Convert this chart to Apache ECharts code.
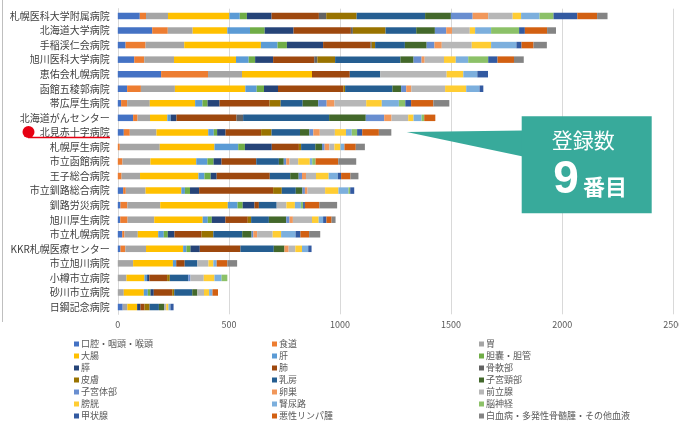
<!DOCTYPE html>
<html><head><meta charset="utf-8">
<script src="https://cdn.jsdelivr.net/npm/echarts@6/dist/echarts.min.js"></script>
<style>html,body{margin:0;padding:0;background:#fff}#c{width:679px;height:423px}</style>
</head><body><div id="c"></div>
<script>
const hospitals = ['札幌医科大学附属病院','北海道大学病院','手稲渓仁会病院','旭川医科大学病院','恵佑会札幌病院','函館五稜郭病院','帯広厚生病院','北海道がんセンター','北見赤十字病院','札幌厚生病院','市立函館病院','王子総合病院','市立釧路総合病院','釧路労災病院','旭川厚生病院','市立札幌病院','KKR札幌医療センター','市立旭川病院','小樽市立病院','砂川市立病院','日鋼記念病院'];

const kouku   = [99,155,35,74,195,42,15,69,27,0,0,0,24,12,11,20,12,0,0,0,22];
const shokudo = [28,70,90,45,211,62,27,20,27,9,21,17,12,31,33,10,22,0,0,0,0];
const i_      = [99,112,174,134,153,153,102,56,120,180,126,83,89,148,120,60,93,69,39,27,21];
const daicho  = [276,156,345,279,315,317,204,78,233,246,206,263,161,304,218,92,167,179,81,90,44];
const kan     = [47,102,75,57,0,51,33,15,25,107,50,27,16,44,23,25,15,15,12,18,0];
const tanno   = [32,66,42,29,0,33,23,0,15,30,28,28,23,23,18,18,18,0,0,12,0];
const sui     = [111,130,163,81,0,63,54,26,38,121,36,27,41,53,61,30,42,0,10,15,15];
const hai     = [213,258,214,185,170,294,225,270,160,122,156,239,333,20,101,122,183,38,80,83,18];
const kotsu   = [33,9,5,14,0,0,0,30,0,0,0,0,0,0,0,0,0,0,0,0,0];
const hifu    = [137,147,15,80,0,8,50,0,47,10,0,0,39,0,15,53,0,0,12,9,23];
const nyubo   = [308,138,134,294,137,213,99,387,128,64,102,92,63,80,80,130,150,57,83,81,42];
const shikyukei = [116,84,98,59,0,39,70,165,42,30,22,38,30,0,78,42,48,0,0,23,23];
const shikyutai = [98,51,35,36,0,23,38,83,18,12,11,15,11,0,15,8,0,0,10,0,0];
const ransou  = [70,26,33,14,0,23,35,33,29,21,15,18,12,0,15,17,19,0,0,0,0];
const zenritsu= [110,80,135,87,299,152,143,75,68,23,39,45,79,44,86,70,30,50,60,30,10];
const boukou  = [38,24,87,53,75,95,70,24,50,27,52,57,60,38,30,38,30,22,48,23,10];
const jinnyoro= [83,72,114,56,63,60,77,36,26,18,11,41,45,27,20,65,28,15,32,15,9];
const noushinkei = [63,126,0,90,0,0,29,12,24,0,15,0,8,10,0,0,0,0,26,0,0];
const koujousen  = [107,26,23,42,48,17,26,0,23,0,0,15,18,8,15,22,15,0,0,0,14];
const lymphoma   = [89,100,54,74,0,0,100,50,75,51,102,42,0,65,23,39,0,48,0,25,0];
const hakketsu   = [47,40,60,44,0,0,72,0,56,41,81,36,0,80,18,50,0,44,0,0,0];

const seriesNames = ['口腔・咽頭・喉頭','食道','胃','大腸','肝','胆嚢・胆管','膵','肺','骨軟部','皮膚','乳房','子宮頸部','子宮体部','卵巣','前立腺','膀胱','腎尿路','脳神経','甲状腺','悪性リンパ腫','白血病・多発性骨髄腫・その他血液'];
const seriesData = [kouku,shokudo,i_,daicho,kan,tanno,sui,hai,kotsu,hifu,nyubo,shikyukei,shikyutai,ransou,zenritsu,boukou,jinnyoro,noushinkei,koujousen,lymphoma,hakketsu];
const xTicks = [0,500,1000,1500,2000,2500];

const colors = ['#4472C4','#ED7D31','#A5A5A5','#FFC000','#5B9BD5','#70AD47','#264478','#9E480E','#636363','#997300','#255E91','#43682B','#698ED0','#F1975A','#B7B7B7','#FFCD33','#7CAFDD','#8CC168','#335AA1','#D26012','#848484'];

const FONT = '"Noto Sans CJK JP","Noto Sans",sans-serif';
const chart = echarts.init(document.getElementById('c'), null, {renderer:'canvas'});

function legendCol(k, left){
  return {
    orient:'vertical', left:left, top:339.5, padding:0,
    itemWidth:5, itemHeight:5, itemGap:3, icon:'rect',
    selectedMode:false,
    data: seriesNames.filter((_,i)=>i%3===k),
    textStyle:{fontSize:9, lineHeight:9, color:'#595959', fontFamily:FONT, padding:[0,0,0,-3]}
  };
}

const option = {
  animation:false,
  color: colors,
  grid:{left:117.8, right:5.7, top:8.7, height:305.6, containLabel:false, outerBoundsMode:'none'},
  xAxis:{type:'value', min:0, max:2500, interval:500,
    axisLine:{show:false}, axisTick:{show:false},
    splitLine:{lineStyle:{color:'#d9d9d9', width:1}},
    axisLabel:{fontSize:9, color:'#595959', fontFamily:FONT, margin:6,
      formatter:v=> xTicks.includes(v)? String(v):''}
  },
  yAxis:{type:'category', data:hospitals, inverse:true,
    axisLine:{show:true, lineStyle:{color:'#d9d9d9'}}, axisTick:{show:false},
    axisLabel:{fontSize:10, color:'#404040', fontFamily:FONT, margin:8}
  },
  legend:[legendCol(0,74), legendCol(1,272), legendCol(2,479)],
  series: seriesNames.map((n,i)=>({
    name:n, type:'bar', stack:'all', data:seriesData[i], barWidth:6.5,
    itemStyle:{color:colors[i]}
  })),
  graphic:[
    {type:'line', shape:{x1:2.5,y1:0,x2:2.5,y2:322}, style:{stroke:'#bfbfbf', lineWidth:1}, silent:true},
    {type:'line', shape:{x1:28,y1:137.5,x2:110,y2:137.5}, style:{stroke:'#e60012', lineWidth:1.5}, z:100},
    {type:'circle', shape:{cx:28.5,cy:132,r:6}, style:{fill:'#e60012'}, z:100},
    {type:'polygon', shape:{points:[[406.7,132],[523,130.5],[523,156.5]]}, style:{fill:'#38aa9b'}, z:100},
    {type:'rect', shape:{x:521.7,y:116.3,width:130,height:97}, style:{fill:'#38aa9b'}, z:100},
    {type:'text', x:583.3, y:140.5, style:{text:'登録数', fill:'#fff', font:'21px '+FONT, textAlign:'center', textVerticalAlign:'middle'}, z:101},
    {type:'text', x:566, y:180, style:{text:'9', fill:'#fff', font:'bold 46px "Liberation Sans",Arial,sans-serif', textAlign:'center', textVerticalAlign:'middle'}, z:101},
    {type:'text', x:583, y:187, style:{text:'番目', fill:'#fff', font:'bold 22px '+FONT, textAlign:'left', textVerticalAlign:'middle'}, z:101}
  ]
};
chart.setOption(option);
</script>
</body></html>
